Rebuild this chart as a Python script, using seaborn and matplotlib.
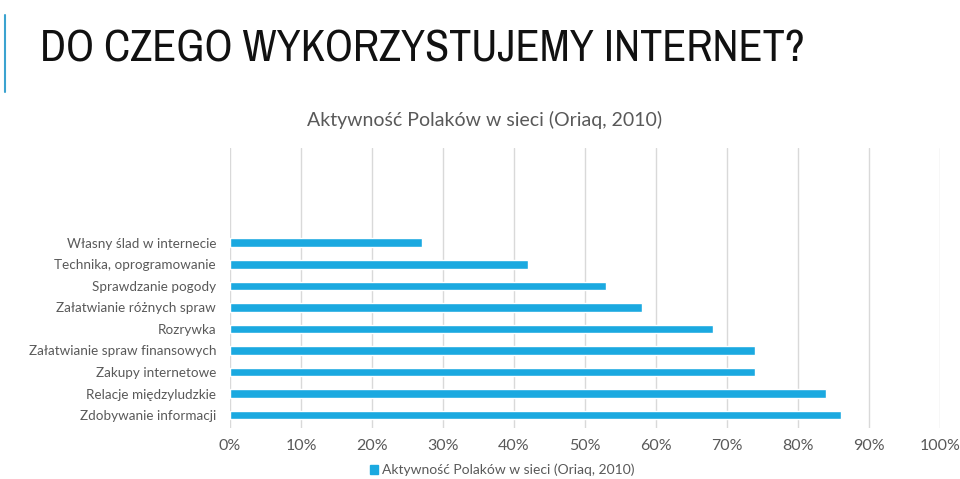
import matplotlib
matplotlib.use("Agg")
import matplotlib.pyplot as plt
import seaborn as sns
import pandas as pd
from matplotlib.ticker import MultipleLocator, FuncFormatter
from matplotlib.patches import Patch
from matplotlib.lines import Line2D
from matplotlib import font_manager

categories = [
    "Własny ślad w internecie",
    "Technika, oprogramowanie",
    "Sprawdzanie pogody",
    "Załatwianie różnych spraw",
    "Rozrywka",
    "Załatwianie spraw finansowych",
    "Zakupy internetowe",
    "Relacje międzyludzkie",
    "Zdobywanie informacji",
]
values = [27, 42, 53, 58, 68, 74, 74, 84, 86]
series_name = "Aktywność Polaków w sieci (Oriaq, 2010)"
slide_title = "DO CZEGO WYKORZYSTUJEMY INTERNET?"

df = pd.DataFrame({"cat": categories, "val": values})

sns.set_theme(style="white")
plt.rcParams["font.family"] = ["Lato", "DejaVu Sans"]

BLUE = "#1BA9E0"
GRAY = "#595959"

fig = plt.figure(figsize=(9.6, 4.79), dpi=100)
ax = fig.add_axes([230/960, 1-428/479, 710/960, 280/479])

sns.barplot(data=df, x="val", y="cat", orient="h", color=BLUE, width=0.4,
            saturation=1, ax=ax)

ax.set_xlim(0, 100)
ax.set_ylim(8.6, -4.4)
ax.xaxis.set_major_locator(MultipleLocator(10))
ax.xaxis.set_major_formatter(FuncFormatter(lambda v, p: f"{int(v)}%"))
ax.grid(axis="x", color="#d9d9d9", linewidth=1)
ax.grid(axis="y", visible=False)
ax.set_axisbelow(True)
for s in ax.spines.values():
    s.set_visible(False)
ax.set_xlabel("")
ax.set_ylabel("")
ax.tick_params(axis="both", length=0, colors=GRAY)
ax.tick_params(axis="x", labelsize=11.5, pad=8)
ax.tick_params(axis="y", labelsize=9.7, pad=10)

fig.text(485/960, 1-120/479, series_name, ha="center", va="center",
         fontsize=14, color=GRAY)

# choose a narrow family if available
fonts = font_manager.fontManager.ttflist
title_family, title_stretch = "DejaVu Sans", "normal"
for f in fonts:
    if "DejaVu Sans" == f.name and f.stretch in ("condensed", "semi-condensed"):
        title_family, title_stretch = f.name, f.stretch
for f in fonts:
    if ("Narrow" in f.name or "Condensed" in f.name):
        title_family, title_stretch = f.name, "normal"
        break
t = fig.text(40/960, 1-49/479, slide_title, ha="left", va="center",
             fontsize=38, color="#111111", family=title_family,
             fontstretch=title_stretch)
fig.canvas.draw()
w = t.get_window_extent().width
t.set_fontsize(38 * 765 / w)

fig.add_artist(Line2D([5/960, 5/960], [1-15/479, 1-92/479], color="#3BA3D0",
                      linewidth=1.5))

handles = [Patch(facecolor=BLUE, edgecolor=BLUE, label=series_name)]
fig.legend(handles=handles, loc="center", bbox_to_anchor=(502/960, 1-470/479),
           frameon=False, fontsize=10, handlelength=0.6, handleheight=0.6,
           handletextpad=0.3, labelcolor=GRAY)

fig.savefig("out.png", dpi=100)
